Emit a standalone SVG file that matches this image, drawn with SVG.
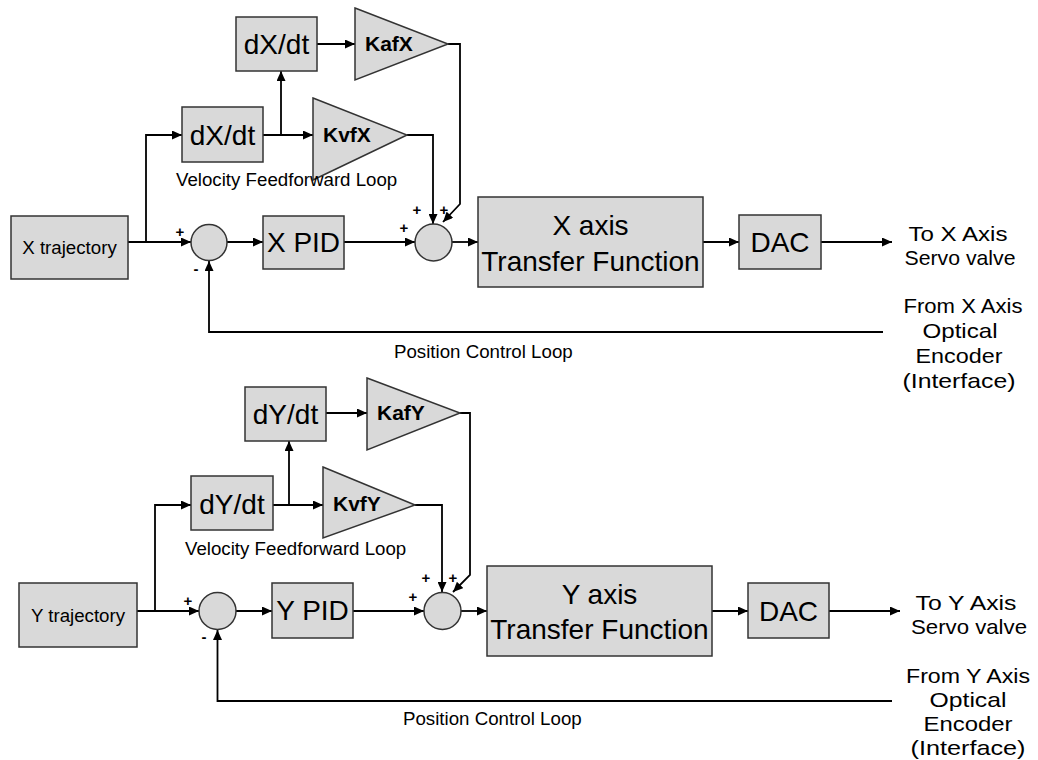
<svg xmlns="http://www.w3.org/2000/svg" width="1038" height="760" viewBox="0 0 1038 760">
  <style>
    .blk { fill: #d9d9d9; stroke: #333333; stroke-width: 1.5; }
    .wire { fill: none; stroke: #000000; stroke-width: 1.8; }
    .arr { marker-end: url(#head); }
    text { font-family: "Liberation Sans", Arial, sans-serif; fill: #000000; }
    .big { font-size: 28px; text-anchor: middle; }
    .gain { font-size: 21px; font-weight: bold; }
    .lbl { font-size: 18.7px; }
    .side { font-size: 21px; text-anchor: middle; }
    .sign { font-size: 15px; font-weight: bold; text-anchor: middle; }
  </style>
  <defs>
    <marker id="head" markerUnits="userSpaceOnUse" markerWidth="11" markerHeight="9" refX="10" refY="4.5" orient="auto">
      <path d="M0,0 L10,4.5 L0,9 z" fill="#000000"/>
    </marker>
  </defs>
  <rect width="1038" height="760" fill="#ffffff"/>

  <!-- connectors -->
  <g id="connectors">
    <!-- X loop -->
    <path class="wire arr" d="M128,242 H191"/>
    <path class="wire arr" d="M146,242 V135 H182"/>
    <path class="wire arr" d="M263,135 H313"/>
    <path class="wire arr" d="M281,135 V71"/>
    <path class="wire arr" d="M317,44 H355"/>
    <path class="wire arr" d="M448,44 H460 V204 L443,222"/>
    <path class="wire arr" d="M407,135 H433 V224"/>
    <path class="wire arr" d="M227,242 H263"/>
    <path class="wire arr" d="M344,242 H415"/>
    <path class="wire arr" d="M452,242 H478"/>
    <path class="wire arr" d="M703,242 H739"/>
    <path class="wire arr" d="M821,242 H892"/>
    <path class="wire arr" d="M883,332 H209 V261"/>
    <!-- Y loop -->
    <path class="wire arr" d="M137,611 H199"/>
    <path class="wire arr" d="M155,611 V505 H191"/>
    <path class="wire arr" d="M273,505 H323"/>
    <path class="wire arr" d="M289,505 V441"/>
    <path class="wire arr" d="M326,413 H367"/>
    <path class="wire arr" d="M460,413 H470 V575 L453,592"/>
    <path class="wire arr" d="M415,505 H442 V592"/>
    <path class="wire arr" d="M236,611 H272"/>
    <path class="wire arr" d="M353,611 H424"/>
    <path class="wire arr" d="M461,611 H487"/>
    <path class="wire arr" d="M712,611 H748"/>
    <path class="wire arr" d="M829,611 H900"/>
    <path class="wire arr" d="M892,701 H217.5 V630"/>
  </g>

  <!-- X axis loop blocks -->
  <g id="x-trajectory"><rect class="blk" x="11" y="216" width="117" height="63"/><text class="lbl" x="69.5" y="254" text-anchor="middle">X trajectory</text></g>
  <g id="x-deriv1"><rect class="blk" x="182" y="107" width="81" height="55"/><text class="big" x="222.5" y="145">dX/dt</text></g>
  <g id="x-deriv2"><rect class="blk" x="236" y="17" width="81" height="54"/><text class="big" x="276.5" y="54">dX/dt</text></g>
  <g id="x-kaf"><path class="blk" d="M355,8 L448,44 L355,80 z"/><text class="gain" x="365" y="51">KafX</text></g>
  <g id="x-kvf"><path class="blk" d="M313,98 L407,135 L313,180 z"/><text class="gain" x="323" y="142">KvfX</text></g>
  <g id="x-sum1"><circle class="blk" cx="209" cy="242.5" r="18"/><text class="sign" x="180" y="237">+</text><text class="sign" x="196" y="274">-</text></g>
  <g id="x-pid"><rect class="blk" x="263" y="216" width="81" height="53"/><text class="big" x="303.5" y="252">X PID</text></g>
  <g id="x-sum2"><circle class="blk" cx="433.5" cy="242.5" r="18.5"/><text class="sign" x="404" y="233">+</text><text class="sign" x="417" y="215">+</text><text class="sign" x="444" y="215">+</text></g>
  <g id="x-plant"><rect class="blk" x="478" y="197" width="225" height="90"/><text class="big" x="590.5" y="235">X axis</text><text class="big" x="590.5" y="271">Transfer Function</text></g>
  <g id="x-dac"><rect class="blk" x="739" y="215" width="82" height="54"/><text class="big" x="780" y="252">DAC</text></g>
  <g id="x-labels">
    <text class="lbl" x="176" y="186">Velocity Feedforward Loop</text>
    <text class="lbl" x="394" y="358">Position Control Loop</text>
    <text class="side" x="958" y="241" textLength="99" lengthAdjust="spacingAndGlyphs">To X Axis</text>
    <text class="side" x="960" y="265" textLength="111" lengthAdjust="spacingAndGlyphs">Servo valve</text>
    <text class="side" x="963" y="313" textLength="119" lengthAdjust="spacingAndGlyphs">From X Axis</text>
    <text class="side" x="960" y="338" textLength="75" lengthAdjust="spacingAndGlyphs">Optical</text>
    <text class="side" x="959" y="363" textLength="87" lengthAdjust="spacingAndGlyphs">Encoder</text>
    <text class="side" x="959" y="388" textLength="113" lengthAdjust="spacingAndGlyphs">(Interface)</text>
  </g>

  <!-- Y axis loop blocks -->
  <g id="y-trajectory"><rect class="blk" x="19" y="583" width="118" height="64"/><text class="lbl" x="78" y="622" text-anchor="middle">Y trajectory</text></g>
  <g id="y-deriv1"><rect class="blk" x="191" y="476" width="82" height="54"/><text class="big" x="232" y="514">dY/dt</text></g>
  <g id="y-deriv2"><rect class="blk" x="245" y="387" width="81" height="54"/><text class="big" x="285.5" y="424">dY/dt</text></g>
  <g id="y-kaf"><path class="blk" d="M367,378 L460,413 L367,450 z"/><text class="gain" x="377" y="420">KafY</text></g>
  <g id="y-kvf"><path class="blk" d="M323,467 L415,505 L323,538 z"/><text class="gain" x="333" y="511">KvfY</text></g>
  <g id="y-sum1"><circle class="blk" cx="217.5" cy="611" r="18.5"/><text class="sign" x="188" y="606">+</text><text class="sign" x="204" y="642">-</text></g>
  <g id="y-pid"><rect class="blk" x="272" y="583" width="81" height="55"/><text class="big" x="312.5" y="620">Y PID</text></g>
  <g id="y-sum2"><circle class="blk" cx="442.5" cy="611" r="18.5"/><text class="sign" x="413" y="602">+</text><text class="sign" x="426" y="583">+</text><text class="sign" x="453" y="583">+</text></g>
  <g id="y-plant"><rect class="blk" x="487" y="566" width="225" height="90"/><text class="big" x="599.5" y="604">Y axis</text><text class="big" x="599.5" y="639">Transfer Function</text></g>
  <g id="y-dac"><rect class="blk" x="748" y="583" width="81" height="55"/><text class="big" x="788.5" y="621">DAC</text></g>
  <g id="y-labels">
    <text class="lbl" x="185" y="555">Velocity Feedforward Loop</text>
    <text class="lbl" x="403" y="725">Position Control Loop</text>
    <text class="side" x="966" y="610" textLength="101" lengthAdjust="spacingAndGlyphs">To Y Axis</text>
    <text class="side" x="969" y="634" textLength="116" lengthAdjust="spacingAndGlyphs">Servo valve</text>
    <text class="side" x="968" y="683" textLength="124" lengthAdjust="spacingAndGlyphs">From Y Axis</text>
    <text class="side" x="968" y="707" textLength="77" lengthAdjust="spacingAndGlyphs">Optical</text>
    <text class="side" x="968" y="731" textLength="89" lengthAdjust="spacingAndGlyphs">Encoder</text>
    <text class="side" x="968" y="755" textLength="115" lengthAdjust="spacingAndGlyphs">(Interface)</text>
  </g>
</svg>
